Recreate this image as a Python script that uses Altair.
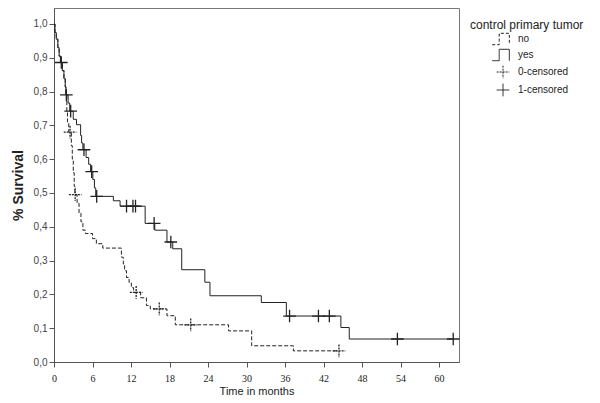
import altair as alt
import pandas as pd

# step curves (time in months, survival after the step)
yes_t = [0, 0.15, 0.35, 0.6, 0.8, 1.0, 1.3, 1.55, 1.75, 1.85, 2.2, 2.45, 3.0, 3.5, 4.15, 4.3, 4.5,
         5.0, 5.4, 5.7, 6.05, 6.3, 6.5, 9.25, 10.3, 14.2, 15.7, 17.6, 18.5, 19.9, 23.5, 24.3,
         32.3, 36.2, 44.7, 46.0, 62.2]
yes_s = [1.0, 0.975, 0.955, 0.93, 0.905, 0.886, 0.862, 0.838, 0.814, 0.79, 0.766, 0.742, 0.718, 0.702,
         0.67, 0.648, 0.628, 0.605, 0.585, 0.563, 0.54, 0.515, 0.49, 0.477, 0.461, 0.41, 0.39, 0.355,
         0.335, 0.273, 0.236, 0.196, 0.176, 0.136, 0.102, 0.068, 0.068]

no_t = [0, 0.15, 0.35, 0.6, 0.8, 1.0, 1.3, 1.55, 1.75, 1.85, 2.0, 2.1, 2.3, 2.7, 2.85, 3.0, 3.15,
        3.25, 3.6, 3.9, 4.2, 4.5, 4.9, 6.0, 6.6, 7.6, 10.5, 10.8, 11.0, 11.3, 11.7, 12.05, 12.4,
        13.5, 14.4, 15.0, 17.6, 18.9, 27.2, 30.8, 37.3, 44.4]
no_s = [1.0, 0.975, 0.955, 0.93, 0.905, 0.886, 0.862, 0.838, 0.814, 0.79, 0.74, 0.71, 0.68, 0.64,
        0.6, 0.56, 0.52, 0.495, 0.47, 0.44, 0.415, 0.39, 0.38, 0.365, 0.35, 0.337, 0.31, 0.29, 0.27,
        0.25, 0.235, 0.22, 0.206, 0.19, 0.167, 0.157, 0.137, 0.11, 0.092, 0.048, 0.033, 0.033]

# censored observations
yes_cens_t = [1.14, 1.92, 2.6, 4.67, 5.87, 6.65, 11.3, 12.3, 12.7, 15.6, 18.2, 36.7, 41.2, 42.9, 53.5, 62.2]
yes_cens_s = [0.886, 0.79, 0.742, 0.628, 0.563, 0.49, 0.461, 0.461, 0.461, 0.41, 0.355, 0.136, 0.136,
              0.136, 0.068, 0.068]
no_cens_t = [2.5, 3.3, 12.8, 16.4, 21.3, 44.4]
no_cens_s = [0.68, 0.495, 0.206, 0.157, 0.11, 0.033]

legend_keys = ["no", "yes", "0-censored", "1-censored"]
x_ticks = [0, 6, 12, 18, 24, 30, 36, 42, 48, 54, 60]
y_ticks = [0.0, 0.1, 0.2, 0.3, 0.4, 0.5, 0.6, 0.7, 0.8, 0.9, 1.0]

curves = pd.concat([
    pd.DataFrame({"t": yes_t, "s": yes_s, "g": "yes"}),
    pd.DataFrame({"t": no_t, "s": no_s, "g": "no"}),
])
cens = pd.concat([
    pd.DataFrame({"t": no_cens_t, "s": no_cens_s, "key": "0-censored"}),
    pd.DataFrame({"t": yes_cens_t, "s": yes_cens_s, "key": "1-censored"}),
])

INK = "#222222"
xs = alt.X("t:Q", scale=alt.Scale(domain=[0, 63.1], nice=False, zero=False),
           axis=alt.Axis(values=x_ticks, title="Time in months", labelFont="Liberation Serif",
                         labelFontSize=10, labelPadding=6, titlePadding=2, titleFontSize=11,
                         titleFontWeight="normal", labelFlush=False))
ys = alt.Y("s:Q", scale=alt.Scale(domain=[0, 1.0473], nice=False),
           axis=alt.Axis(values=y_ticks, title="% Survival", titleFontSize=14, titleFontWeight="bold",
                         labelExpr="replace(format(datum.value, '.1f'), '.', ',')",
                         labelFontSize=10, labelPadding=2, titlePadding=8, labelColor="#444"))

line_yes = alt.Chart(curves).transform_filter(alt.datum.g == "yes").mark_line(
    interpolate="step-after", color=INK, strokeWidth=1).encode(x=xs, y=ys)
line_no = alt.Chart(curves).transform_filter(alt.datum.g == "no").mark_line(
    interpolate="step-after", color=INK, strokeWidth=1, strokeDash=[4, 2]).encode(x=xs, y=ys)

step_path = "M-1.7,0.9H-0.6V-0.9H1V0.9"
cross_path = "M-1,0H1M0,-1V1"
leg = alt.Legend(title="control primary tumor", orient="none", legendX=416, legendY=12,
                 titleFontSize=12, titleFontWeight="normal", titleColor=INK, labelFontSize=10,
                 labelColor=INK, symbolOffset=26, labelOffset=8, rowPadding=0, titlePadding=0,
                 symbolStrokeColor=INK, symbolStrokeWidth=1, symbolFillColor="transparent")

points = alt.Chart(cens).mark_point(filled=False, color=INK, strokeWidth=1.3, opacity=1).encode(
    x=xs, y=ys,
    shape=alt.Shape("key:N", scale=alt.Scale(domain=legend_keys,
                    range=[step_path, step_path, cross_path, cross_path]), legend=leg),
    strokeDash=alt.StrokeDash("key:N", scale=alt.Scale(domain=legend_keys,
                    range=[[3, 2], [1, 0], [2, 1], [1, 0]]), legend=leg),
    size=alt.Size("key:N", scale=alt.Scale(domain=legend_keys, range=[160, 160, 60, 80]), legend=leg),
)

chart = alt.layer(line_no, line_yes, points).properties(
    width=405, height=354,
    autosize=alt.AutoSizeParams(type="none"),
    padding={"left": 46, "top": 0, "right": 133, "bottom": 33},
).configure(font="Liberation Sans").configure_view(
    stroke="#777777", strokeWidth=1
).configure_axis(
    grid=False, domainColor="#555555", tickColor="#555555", tickSize=5,
    labelColor=INK, titleColor=INK,
)

chart.save("out.html", embed_options={"renderer": "svg", "actions": False})
